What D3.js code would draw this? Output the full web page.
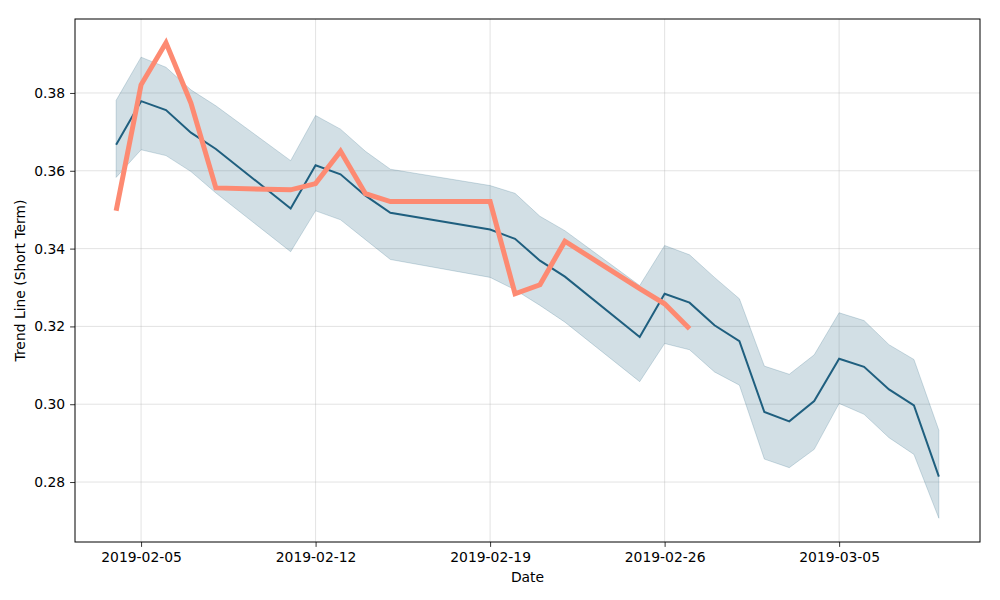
<!DOCTYPE html>
<html lang="en">
<head>
    <meta charset="UTF-8">
    <title>Trend Line (Short Term)</title>
    <style>
        body {
            margin: 0;
            background-color: #ffffff;
        }
        svg text {
            font-family: "DejaVu Sans", sans-serif;
            font-size: 13.9px;
            fill: #000;
        }
    </style>
    <script src="https://d3js.org/d3.v7.min.js"></script>
</head>
<body>
    <svg width="1000" height="600"></svg>

    <script>
        // Дані
        const forecastDates = [
            "2019-02-04", "2019-02-05", "2019-02-06", "2019-02-07", "2019-02-08",
            "2019-02-11", "2019-02-12", "2019-02-13", "2019-02-14", "2019-02-15",
            "2019-02-19", "2019-02-20", "2019-02-21", "2019-02-22", "2019-02-25",
            "2019-02-26", "2019-02-27", "2019-02-28", "2019-03-01", "2019-03-02",
            "2019-03-03", "2019-03-04", "2019-03-05", "2019-03-06", "2019-03-07",
            "2019-03-08", "2019-03-09"
        ];
        const trendValues = [
            0.3667, 0.3779, 0.3756, 0.3698, 0.3656,
            0.3503, 0.3614, 0.3591, 0.3536, 0.3492,
            0.3449, 0.3425, 0.3369, 0.3328, 0.3173,
            0.3284, 0.3261, 0.3203, 0.3162, 0.2980,
            0.2956, 0.3008, 0.3117, 0.3096, 0.3038,
            0.2997, 0.2814
        ];
        const upperValues = [
            0.3781, 0.3892, 0.3866, 0.3808, 0.3767,
            0.3626, 0.3742, 0.3707, 0.3650, 0.3604,
            0.3562, 0.3542, 0.3483, 0.3446, 0.3305,
            0.3408, 0.3384, 0.3326, 0.3271, 0.3098,
            0.3077, 0.3127, 0.3235, 0.3215, 0.3153,
            0.3115, 0.2933
        ];
        const lowerValues = [
            0.3583, 0.3654, 0.3639, 0.3598, 0.3543,
            0.3392, 0.3497, 0.3474, 0.3423, 0.3372,
            0.3326, 0.3294, 0.3254, 0.3211, 0.3058,
            0.3156, 0.3140, 0.3083, 0.3049, 0.2859,
            0.2837, 0.2884, 0.3002, 0.2974, 0.2914,
            0.2871, 0.2707
        ];
        // Фактичні значення (помаранчева лінія)
        const actualDates = [
            "2019-02-04", "2019-02-05", "2019-02-06", "2019-02-07", "2019-02-08",
            "2019-02-11", "2019-02-12", "2019-02-13", "2019-02-14", "2019-02-15",
            "2019-02-19", "2019-02-20", "2019-02-21", "2019-02-22", "2019-02-25",
            "2019-02-26", "2019-02-27"
        ];
        const actualValues = [
            0.3497, 0.3821, 0.3929, 0.3774, 0.3556,
            0.3551, 0.3567, 0.3650, 0.3541, 0.3521,
            0.3521, 0.3284, 0.3307, 0.3419, 0.3297,
            0.3258, 0.3194
        ];
        const xTickDates = ["2019-02-05", "2019-02-12", "2019-02-19", "2019-02-26", "2019-03-05"];
        const yTickValues = [0.28, 0.30, 0.32, 0.34, 0.36, 0.38];

        const parseDate = d3.utcParse("%Y-%m-%d");
        const forecast = forecastDates.map((d, i) => ({
            date: parseDate(d), y: trendValues[i], hi: upperValues[i], lo: lowerValues[i]
        }));
        const actual = actualDates.map((d, i) => ({ date: parseDate(d), y: actualValues[i] }));

        const margin = { left: 75, top: 19, right: 20, bottom: 58 };
        const width = 1000 - margin.left - margin.right;
        const height = 600 - margin.top - margin.bottom;

        // Межі осей з полями 5%, як у matplotlib
        const allDates = forecast.map(d => d.date).concat(actual.map(d => d.date));
        const [dMin, dMax] = d3.extent(allDates);
        const dPad = (dMax - dMin) * 0.05;
        const allY = lowerValues.concat(upperValues, actualValues);
        const [yMin, yMax] = d3.extent(allY);
        const yPad = (yMax - yMin) * 0.05;

        const x = d3.scaleUtc()
            .domain([new Date(+dMin - dPad), new Date(+dMax + dPad)])
            .range([0, width]);
        const y = d3.scaleLinear()
            .domain([yMin - yPad, yMax + yPad])
            .range([height, 0]);

        const svg = d3.select("svg");
        const g = svg.append("g").attr("transform", `translate(${margin.left},${margin.top})`);

        // Сітка
        g.append("g")
            .selectAll("line")
            .data(xTickDates.map(parseDate))
            .enter().append("line")
            .attr("x1", d => x(d)).attr("x2", d => x(d))
            .attr("y1", 0).attr("y2", height)
            .style("stroke", "#b0b0b0")
            .style("stroke-opacity", 0.35)
            .style("stroke-width", 1);
        g.append("g")
            .selectAll("line")
            .data(yTickValues)
            .enter().append("line")
            .attr("x1", 0).attr("x2", width)
            .attr("y1", d => y(d)).attr("y2", d => y(d))
            .style("stroke", "#b0b0b0")
            .style("stroke-opacity", 0.35)
            .style("stroke-width", 1);

        // Довірчий інтервал
        const area = d3.area()
            .x(d => x(d.date))
            .y0(d => y(d.lo))
            .y1(d => y(d.hi));
        g.append("path")
            .datum(forecast)
            .attr("d", area)
            .style("fill", "#1f5f7f")
            .style("fill-opacity", 0.2)
            .style("stroke", "#1f5f7f")
            .style("stroke-opacity", 0.2)
            .style("stroke-width", 1);

        // Лінія тренду
        const line = d3.line().x(d => x(d.date)).y(d => y(d.y));
        g.append("path")
            .datum(forecast)
            .attr("d", line)
            .style("fill", "none")
            .style("stroke", "#1f5f7f")
            .style("stroke-width", 2);

        // Фактичні значення
        g.append("path")
            .datum(actual)
            .attr("d", line)
            .style("fill", "none")
            .style("stroke", "#fd8a72")
            .style("stroke-width", 5)
            .style("stroke-linejoin", "miter")
            .style("stroke-linecap", "butt");

        // Осі
        const xAxis = g.append("g")
            .attr("transform", `translate(0,${height})`)
            .call(d3.axisBottom(x)
                .tickValues(xTickDates.map(parseDate))
                .tickFormat(d3.utcFormat("%Y-%m-%d"))
                .tickSize(4.9)
                .tickPadding(4.9));
        const yAxis = g.append("g")
            .call(d3.axisLeft(y)
                .tickValues(yTickValues)
                .tickFormat(d3.format(".2f"))
                .tickSize(4.9)
                .tickPadding(4.9));
        [xAxis, yAxis].forEach(a => {
            a.select(".domain").remove();
            a.selectAll(".tick line").style("stroke", "#000").style("stroke-width", 0.8);
            a.selectAll(".tick text")
                .style("font-family", "'DejaVu Sans', sans-serif")
                .style("font-size", "13.9px")
                .style("fill", "#000");
        });

        // Рамка
        g.append("rect")
            .attr("width", width)
            .attr("height", height)
            .style("fill", "none")
            .style("stroke", "#000")
            .style("stroke-width", 1);

        // Підписи осей
        svg.append("text")
            .attr("x", margin.left + width / 2)
            .attr("y", 582)
            .attr("text-anchor", "middle")
            .text("Date");
        svg.append("text")
            .attr("transform", `translate(25,${margin.top + height / 2}) rotate(-90)`)
            .attr("text-anchor", "middle")
            .text("Trend Line (Short Term)");
    </script>
</body>
</html>
